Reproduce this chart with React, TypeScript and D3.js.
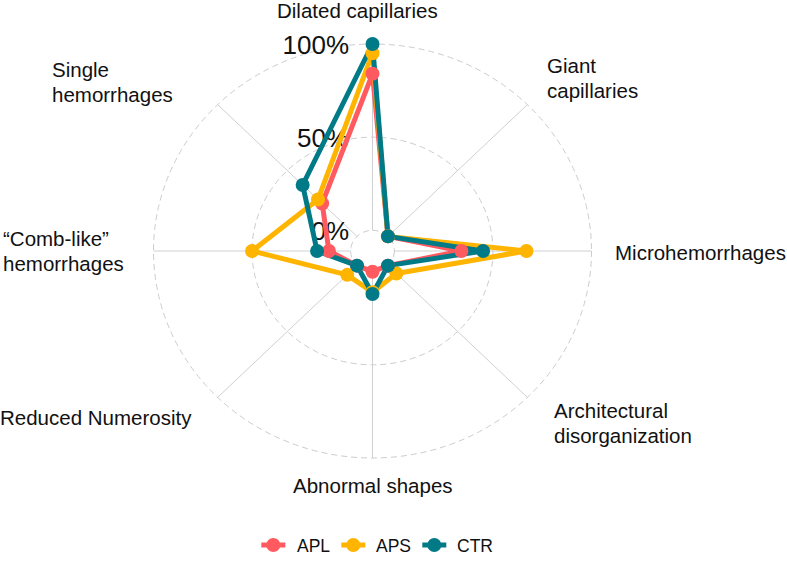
import React from "react";
import * as d3 from "d3";

const axes = [
  "Dilated capillaries",
  "Giant capillaries",
  "Microhemorrhages",
  "Architectural disorganization",
  "Abnormal shapes",
  "Reduced Numerosity",
  "“Comb-like” hemorrhages",
  "Single hemorrhages",
];
const seriesNames = ["APL", "APS", "CTR"];
const APL = [0.84, 0.0, 0.34, 0.0, 0.0, 0.0, 0.11, 0.25];
const APS = [0.95, 0.0, 0.67, 0.06, 0.11, 0.07, 0.5, 0.28];
const CTR = [1.0, 0.0, 0.45, 0.0, 0.12, 0.0, 0.17, 0.39];
const seriesValues = [APL, APS, CTR];
const colors = ["#FF5A5F", "#FFB400", "#007A87"];
const gridValues = [0, 0.5, 1];
const gridLabels = ["0%", "50%", "100%"];

// label layout (lines, x, first baseline)
const labelLayout = [
  { lines: ["Dilated capillaries"], x: 277, y: 18 },
  { lines: ["Giant", "capillaries"], x: 547, y: 73 },
  { lines: ["Microhemorrhages"], x: 615, y: 260 },
  { lines: ["Architectural", "disorganization"], x: 554, y: 418 },
  { lines: ["Abnormal shapes"], x: 293, y: 493 },
  { lines: ["Reduced Numerosity"], x: 0, y: 425 },
  { lines: ["“Comb-like”", "hemorrhages"], x: 3, y: 246 },
  { lines: ["Single", "hemorrhages"], x: 52, y: 77 },
];

export default function App() {
  const W = 787;
  const H = 566;
  const cx = 372.5;
  const cy = 251;
  const Rx = 219;
  const Ry = 207;
  const centreY = 0 - (1 / 9) * (1 - 0);
  const r = d3.scaleLinear().domain([centreY, 1]).range([0, 1]);
  const n = axes.length;
  const angle = (i: number) => (i * 2 * Math.PI) / n;
  const px = (i: number, v: number) => cx + r(v) * Rx * Math.sin(angle(i));
  const py = (i: number, v: number) => cy - r(v) * Ry * Math.cos(angle(i));

  const line = d3
    .line<number>()
    .x((v, i) => px(i, v))
    .y((v, i) => py(i, v))
    .curve(d3.curveLinearClosed);

  const font = "'Liberation Sans', Arial, Helvetica, sans-serif";

  const legendItems = [
    { sx: 273.3, tx: 297 },
    { sx: 353.3, tx: 376 },
    { sx: 434.3, tx: 457 },
  ];

  return (
    <svg
      width={W}
      height={H}
      style={{ position: "absolute", left: 0, top: 0, background: "#fff" }}
      fontFamily={font}
    >
      {gridValues.map((g) => (
        <ellipse
          key={"g" + g}
          cx={cx}
          cy={cy}
          rx={r(g) * Rx}
          ry={r(g) * Ry}
          fill="none"
          stroke="#cccccc"
          strokeWidth={1}
          strokeDasharray="6,4"
        />
      ))}
      {axes.map((a, i) => (
        <line
          key={"ax" + i}
          x1={px(i, 0)}
          y1={py(i, 0)}
          x2={px(i, 1)}
          y2={py(i, 1)}
          stroke="#d0d0d0"
          strokeWidth={1}
        />
      ))}
      {gridValues.map((g, k) => (
        <text
          key={"gl" + g}
          x={349}
          y={py(0, g) + 9.5}
          textAnchor="end"
          fontSize={26}
          fill="#111"
        >
          {gridLabels[k]}
        </text>
      ))}
      {seriesValues.map((vals, s) => (
        <path
          key={"l" + s}
          d={line(vals) || ""}
          fill="none"
          stroke={colors[s]}
          strokeWidth={5}
          strokeLinejoin="round"
        />
      ))}
      {seriesValues.map((vals, s) =>
        vals.map((v, i) => (
          <circle
            key={"p" + s + "-" + i}
            cx={px(i, v)}
            cy={py(i, v)}
            r={7}
            fill={colors[s]}
          />
        ))
      )}
      {labelLayout.map((lb, i) => (
        <text key={"al" + i} x={lb.x} y={lb.y} fontSize={20.5} fill="#111">
          {lb.lines.map((t, j) => (
            <tspan key={j} x={lb.x} y={lb.y + j * 24.5}>
              {t}
            </tspan>
          ))}
        </text>
      ))}
      {seriesNames.map((nm, s) => (
        <g key={"lg" + s}>
          <line
            x1={legendItems[s].sx - 12}
            x2={legendItems[s].sx + 12}
            y1={545}
            y2={545}
            stroke={colors[s]}
            strokeWidth={5}
          />
          <circle cx={legendItems[s].sx} cy={545} r={7} fill={colors[s]} />
          <text x={legendItems[s].tx} y={551.5} fontSize={17.5} fill="#111">
            {nm}
          </text>
        </g>
      ))}
    </svg>
  );
}
